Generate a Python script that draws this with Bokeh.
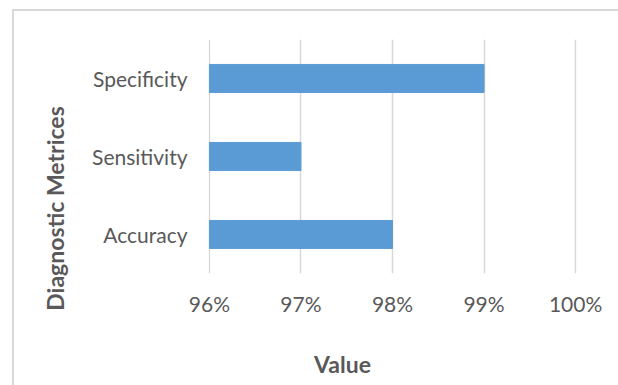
import math
from bokeh.plotting import figure
from bokeh.models import Range1d, FactorRange, FixedTicker, NumeralTickFormatter, Label
from bokeh.embed import file_html
from bokeh.resources import INLINE

# ---- data ----
categories = ["Accuracy", "Sensitivity", "Specificity"]   # bottom -> top
values = [0.98, 0.97, 0.99]
x_ticks = [0.96, 0.97, 0.98, 0.99, 1.00]
x_title = "Value"
y_title = "Diagnostic Metrices"

FONT = "Lato"
TXT = "#595959"
BORDER = "#D9D9D9"
pad = 0.0001  # tiny padding so edge gridlines are not clipped

p = figure(width=618, height=385, output_backend="svg", toolbar_location=None,
           x_range=Range1d(x_ticks[0] - pad, x_ticks[-1] + pad),
           y_range=FactorRange(factors=categories, range_padding=0),
           min_border_left=208, min_border_right=42, min_border_top=39,
           min_border_bottom=112)

# chart-area border: top and left edges only (the reference crops right/bottom)
grad = f"linear-gradient({BORDER}, {BORDER})"
p.stylesheets = [
    ":host { background-color: white; "
    f"background-image: {grad}, {grad}; "
    "background-size: 606px 2px, 2px 376px; "
    "background-position: 12px 9px, 12px 9px; "
    "background-repeat: no-repeat; }"
]

p.hbar(y=categories, left=x_ticks[0], right=values, height=0.36, color="#5B9BD5")

p.outline_line_color = None
p.background_fill_color = "white"
p.border_fill_alpha = 0

p.xaxis.ticker = FixedTicker(ticks=x_ticks)
p.xaxis.formatter = NumeralTickFormatter(format="0%")
for ax in (p.xaxis, p.yaxis):
    ax.axis_line_color = None
    ax.major_tick_line_color = None
    ax.minor_tick_line_color = None
    ax.major_tick_out = 0
    ax.major_tick_in = 0
    ax.major_label_text_font = FONT
    ax.major_label_text_font_size = "21px"
    ax.major_label_text_color = TXT
p.yaxis.major_label_standoff = 21
p.xaxis.major_label_standoff = 17

p.ygrid.grid_line_color = None
p.xgrid.grid_line_color = BORDER
p.xgrid.grid_line_width = 1.5

p.add_layout(Label(x=134, y=-17, x_units="screen", y_units="screen",
                   text=x_title, text_align="center", text_baseline="alphabetic",
                   text_font=FONT, text_font_size="23px", text_font_style="bold",
                   text_color=TXT), "below")
p.add_layout(Label(x=-7, y=65, x_units="screen", y_units="screen",
                   text=y_title, angle=math.pi / 2, text_align="center",
                   text_baseline="alphabetic",
                   text_font=FONT, text_font_size="23px", text_font_style="bold",
                   text_color=TXT), "left")

open("out.html", "w").write(file_html(p, INLINE))
